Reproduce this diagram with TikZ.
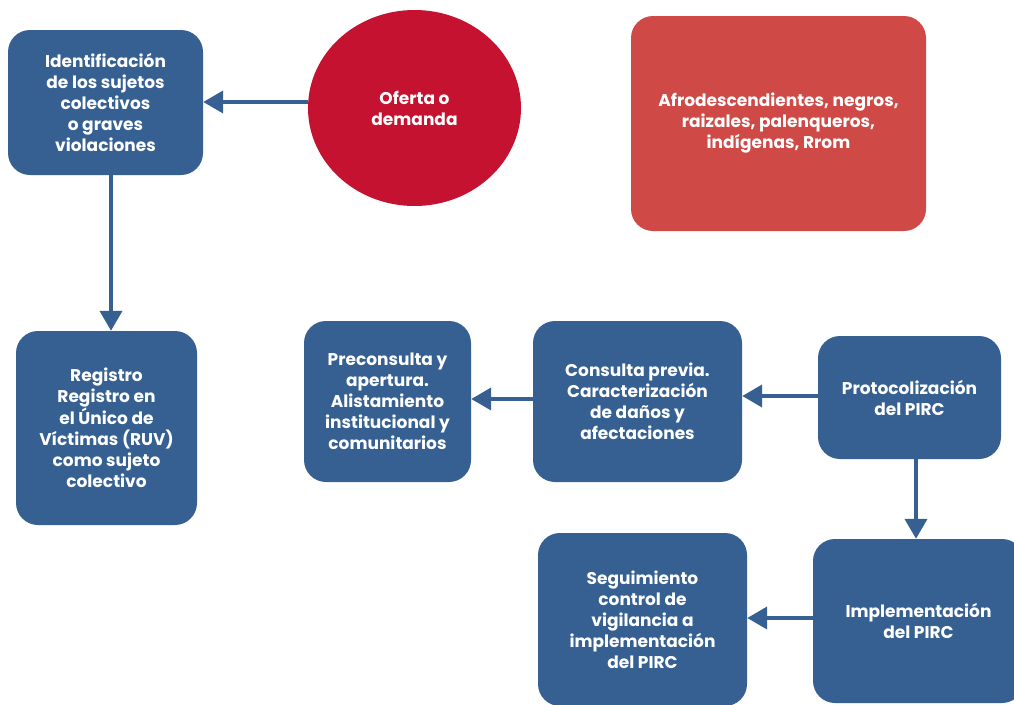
\documentclass[tikz,border=0pt]{standalone}
\usepackage{fontspec}
\setmainfont{Poppins}
\usetikzlibrary{arrows.meta,shapes.geometric}

\definecolor{stepblue}{RGB}{53,96,145}
\definecolor{ofertared}{RGB}{196,18,48}
\definecolor{grupored}{RGB}{207,74,70}

\tikzset{
    stepbox/.style={rectangle, rounded corners=22pt, fill=stepblue, text=white,
        align=center, font=\bfseries\fontsize{17}{21}\selectfont, inner sep=0pt},
    flow/.style={line width=4pt, draw=stepblue, -{Triangle[length=20pt,width=22pt]}}
}

\begin{document}
\begin{tikzpicture}[x=1pt,y=-1pt]
        \useasboundingbox (0,0) rectangle (1014,704);

        % Top row
        \node[stepbox, minimum width=195pt, minimum height=145pt] (ident) at (105.5,102.5)
            {Identificación\\de los sujetos\\colectivos\\o graves\\violaciones};
        \node[ellipse, fill=ofertared, text=white, align=center, inner sep=0pt,
            minimum width=213pt, minimum height=196pt,
            font=\bfseries\fontsize{17}{21}\selectfont] (oferta) at (414.5,108)
            {Oferta o\\demanda};
        \node[stepbox, fill=grupored, minimum width=295pt, minimum height=215pt] (grupos) at (778.5,123.5)
            {Afrodescendientes, negros,\\raizales, palenqueros,\\indígenas, Rrom};

        % Middle row
        \node[stepbox, minimum width=181pt, minimum height=194pt] (registro) at (106.5,428)
            {Registro\\Registro en\\el Único de\\Víctimas (RUV)\\como sujeto\\colectivo};
        \node[stepbox, minimum width=167pt, minimum height=161pt] (precons) at (387.5,401.5)
            {Preconsulta y\\apertura.\\Alistamiento\\institucional y\\comunitarios};
        \node[stepbox, minimum width=209pt, minimum height=161pt] (consulta) at (637.5,401.5)
            {Consulta previa.\\Caracterización\\de daños y\\afectaciones};
        \node[stepbox, minimum width=183pt, minimum height=123pt] (protocolo) at (909.5,397.5)
            {Protocolización\\del PIRC};

        % Bottom row
        \node[stepbox, minimum width=211pt, minimum height=164pt] (implement) at (918.5,621)
            {Implementación\\del PIRC};
        \node[stepbox, minimum width=209pt, minimum height=173pt] (seguim) at (642.5,619.5)
            {Seguimiento\\control de\\vigilancia a\\implementación\\del PIRC};

        % Connectors
        \draw[flow] (oferta.west |- 0,102) -- (ident.east |- 0,102);
        \draw[flow] (ident.south -| 111,0) -- (registro.north -| 111,0);
        \draw[flow] (consulta.west |- 0,399) -- (precons.east |- 0,399);
        \draw[flow] (protocolo.west |- 0,396) -- (consulta.east |- 0,396);
        \draw[flow] (protocolo.south -| 916,0) -- (implement.north -| 916,0);
        \draw[flow] (implement.west |- 0,618) -- (seguim.east |- 0,618);
    \end{tikzpicture}
\end{document}
